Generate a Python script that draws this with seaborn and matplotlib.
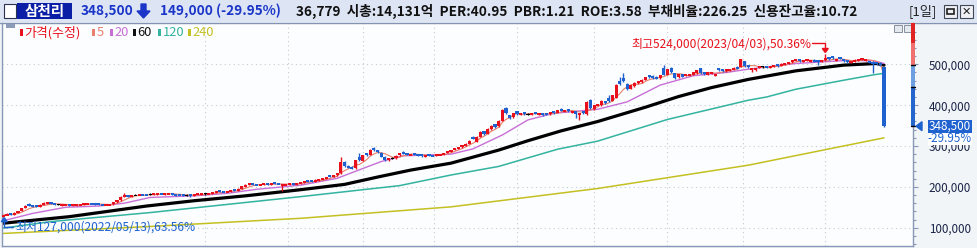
import matplotlib
matplotlib.use('Agg')
import matplotlib.pyplot as plt
from matplotlib.patches import Rectangle, Polygon
from matplotlib.lines import Line2D
from matplotlib.transforms import IdentityTransform, blended_transform_factory
import numpy as np
import pandas as pd
import seaborn as sns

# 삼천리 일봉 (단위: 천원), 2022/05/13 ~
opens = [128,131,134,132,137,141,148,156,155,153,151,156,158,161,158,156,155,156,157,154,
         155,156,156,158,159,158,158,157,156,156,157,162,167,175,178,177,180,180,181,181,
         182,181,182,184,182,183,184,182,181,180,179,180,179,181,182,183,183,184,185,190,
         189,188,189,192,191,195,200,205,208,206,205,206,208,206,209,208,203,205,206,207,
         206,209,211,215,214,213,216,218,221,227,225,228,233,262,251,249,245,272,264,282,
         279,294,290,284,274,265,269,270,277,286,283,278,281,279,278,275,278,277,276,278,
         280,283,286,290,294,297,300,306,321,310,322,336,330,341,353,348,362,392,376,370,
         385,377,382,377,377,383,377,379,378,378,384,381,391,384,390,382,385,376,384,378,
         412,390,398,400,410,418,410,418,458,466,452,440,446,453,456,462,474,472,470,466,
         490,474,492,478,468,476,472,473,476,478,490,481,476,477,472,490,488,483,485,487,
         494,494,508,498,488,487,491,494,495,492,494,500,497,500,502,505,508,511,507,508,
         507,511,509,506,510,517,519,508,518,512,509,504,507,510,511,509,508,506,505,504,
         493]
highs = [132,135,135,138,142,148,155,160,156,154,157,162,163,162,159,158,157,158,158,156,
         157,158,159,160,160,159,159,158,158,158,163,168,177,184,179,180,182,183,182,182,
         186,183,184,185,184,185,185,183,182,181,182,181,183,183,184,185,185,186,189,191,
         190,190,192,193,196,202,207,210,209,207,207,208,209,208,210,209,207,207,208,208,
         210,213,215,216,215,218,219,222,224,229,229,234,272,264,253,250,266,282,279,284,
         292,298,291,285,275,271,272,277,284,287,284,281,282,280,279,278,279,278,279,281,
         284,287,291,295,298,302,307,314,324,324,336,337,343,351,355,363,390,396,377,382,
         386,381,383,380,382,384,380,380,379,384,385,389,392,389,391,386,386,381,385,410,
         414,401,404,412,411,425,425,452,470,478,453,450,456,459,463,469,475,473,471,475,
         498,489,494,479,477,477,475,477,480,487,491,482,480,481,477,491,489,489,488,493,
         495,514,509,499,492,491,495,496,496,496,498,501,502,504,506,511,513,512,511,512,
         511,512,510,511,524,518,520,512,519,513,510,508,512,514,515,512,509,507,506,505,
         494]
lows = [127,130,131,131,136,140,147,152,151,150,150,155,157,157,156,155,154,155,154,153,
        154,155,155,157,157,156,156,155,155,155,156,161,166,174,175,176,179,179,179,179,
        180,180,181,182,181,182,181,177,179,178,177,176,178,180,181,181,182,183,184,188,
        187,187,188,190,190,194,199,204,204,204,204,205,205,205,207,206,191,204,205,205,
        205,208,210,212,212,212,215,217,220,224,224,227,232,248,245,243,244,264,263,276,
        278,288,283,272,264,264,267,269,276,280,277,277,277,276,274,274,275,275,275,277,
        279,282,285,289,293,296,299,305,316,309,321,328,329,340,345,347,361,378,366,369,
        377,376,377,375,376,378,376,374,375,377,379,380,385,383,384,381,369,364,379,377,
        390,389,397,399,404,407,409,417,450,456,438,439,445,452,455,461,466,465,463,465,
        473,473,478,464,467,468,471,472,475,477,476,475,475,476,471,483,482,482,484,486,
        488,493,494,492,482,483,490,492,490,491,493,494,496,499,501,504,507,506,506,507,
        506,505,498,505,509,511,513,507,512,506,503,503,506,509,510,508,503,478,499,496,
        347]
closes = [131,133,132,137,141,147,153,154,152,151,156,160,161,158,157,156,156,157,155,155,
          156,157,158,159,158,157,157,156,157,157,162,167,176,178,176,179,180,181,180,180,
          182,182,183,183,183,184,182,180,180,179,179,179,182,182,183,183,184,185,188,189,
          188,189,191,191,195,201,205,207,205,205,206,207,206,207,208,207,206,206,207,206,
          209,212,214,213,213,217,218,221,223,225,228,233,262,250,247,245,265,266,278,278,
          290,290,285,274,266,270,269,276,283,282,279,280,279,278,276,277,277,276,278,280,
          283,286,290,294,297,301,306,313,318,323,335,330,342,350,347,362,388,380,369,381,
          379,380,379,377,381,380,379,376,377,383,381,388,387,388,386,385,379,380,381,408,
          392,400,402,410,406,409,424,450,452,458,440,449,455,458,462,468,468,467,465,474,
          475,488,480,466,476,470,474,476,479,486,478,477,479,480,476,485,484,488,487,492,
          490,512,496,494,491,490,494,494,492,495,497,496,501,503,505,510,511,508,510,511,
          510,507,505,510,516,513,515,511,514,508,505,507,511,513,514,511,505,502,501,497.5,
          348.5]

# 이동평균선
ma20_idx = [0, 8, 17, 26, 33, 40, 52, 61, 69, 81, 91, 98, 103, 109, 122, 128, 136, 143, 150, 162,
            170, 179, 188, 197, 203, 216, 229, 237, 240]
ma20_val = [117, 135, 150, 153, 160, 174, 178, 184, 194, 204, 221, 245, 262, 276, 280, 293, 327, 364, 380, 390,
            408, 449, 472, 480, 488, 502, 509, 509, 502]
ma60_idx = [0, 18, 39, 52, 66, 81, 93, 102, 111, 122, 135, 143, 152, 162, 175, 184, 193, 203, 216, 229, 238, 240]
ma60_val = [111, 127, 153, 166, 178, 193, 206, 224, 241, 258, 290, 313, 337, 360, 395, 421, 443, 463, 484, 498, 502, 498]
ma120_idx = [0, 13, 40, 81, 108, 122, 135, 151, 162, 181, 203, 208, 216, 229, 237, 240]
ma120_val = [99, 115, 137, 176, 203, 229, 250, 292, 312, 365, 412, 420, 439, 461, 474, 478]
ma240_idx = [0, 40, 81, 122, 162, 203, 240]
ma240_val = [86, 103, 123, 151, 196, 253, 320]

month_starts = [55, 77.5, 98, 117.5, 140, 161, 181, 201.5, 224]
price_ticks = [100, 200, 300, 400, 500]
legend_names = ['가격(수정)', '5', '20', '60', '120', '240']
legend_colors = ['#e8101c', '#e8806c', '#c86fd6', '#111111', '#33b3a0', '#c4c021']
range_bar = [601.1, 552, 497.5, 445, 348.5]   # 우측 등락 막대 경계
range_cols = ['#e02424', '#f07070', '#6d9fe0', '#2466cc']

RED = '#e8101c'
BLUE = '#1f62cf'

sns.set_style('white')
plt.rcParams['font.family'] = ['Noto Sans CJK KR', 'DejaVu Sans']

W, H = 977, 248
fig = plt.figure(figsize=(W / 100, H / 100), dpi=100)
fig.patch.set_facecolor('#f1f5f7')
ID = IdentityTransform()


def box(x0, y0, x1, y1, fc, ec='none', lw=0, z=1):
    # 픽셀 좌표 (위쪽 기준)
    fig.add_artist(Rectangle((x0, H - y1), x1 - x0, y1 - y0, transform=ID,
                             facecolor=fc, edgecolor=ec, linewidth=lw, zorder=z))


def txt(x, y, s, **kw):
    fig.text(x, H - y, s, transform=ID, **kw)


def line(xs, ys, color, lw=1, z=3):
    fig.add_artist(Line2D(xs, [H - v for v in ys], transform=ID, color=color, lw=lw, zorder=z))


# 차트 영역
ax = fig.add_axes([2 / W, 1 - 246 / H, (913 - 2) / W, (246 - 23) / H])
ax.set_facecolor('#fbfdfe')
ax.set_xlim(-0.35, 247.9)
ax.set_ylim(55.2, 601.1)

ax.hlines(price_ticks, -0.35, 247.9, colors='#c3cbd3', linestyles=(0, (1, 3)), lw=0.8, zorder=1)
ax.vlines(month_starts, 55.2, 601.1, colors='#c3cbd3', linestyles=(0, (1, 3)), lw=0.8, zorder=1)

# 이동평균선
idx = np.arange(len(closes))
ma5 = pd.Series(closes).rolling(5, min_periods=1).mean()
sns.lineplot(x=ma240_idx, y=ma240_val, ax=ax, color=legend_colors[5], lw=1.1, zorder=2)
sns.lineplot(x=ma120_idx, y=ma120_val, ax=ax, color=legend_colors[4], lw=1.1, zorder=2)
sns.lineplot(x=ma60_idx, y=ma60_val, ax=ax, color='black', lw=2.3, zorder=2)
sns.lineplot(x=ma20_idx, y=ma20_val, ax=ax, color=legend_colors[2], lw=1.0, zorder=2)
sns.lineplot(x=idx, y=ma5, ax=ax, color=legend_colors[1], lw=0.8, zorder=2)

# 캔들
o = np.array(opens, float)
c = np.array(closes, float)
hi = np.array(highs, float)
lo = np.array(lows, float)
cols = np.where(c > o, RED, np.where(c < o, BLUE, '#000000'))
body = np.where(c == o, 2.4, np.maximum(np.abs(c - o), 5.0))
mid = (o + c) / 2
ax.vlines(idx, lo, hi, colors=cols, lw=1, zorder=3)
ax.bar(idx, body, bottom=mid - body / 2, width=0.85, color=cols, linewidth=0, zorder=4)

# 축
ax.set_xticks([])
ax.set_xlabel('')
ax.set_ylabel('')
ax.yaxis.tick_right()
ax.set_yticks(price_ticks)
ax.set_yticklabels([f'{p * 1000:,}' for p in price_ticks])
ax.set_yticks(np.arange(60, 600, 20), minor=True)
ax.tick_params(axis='y', which='major', length=3.5, width=0.8, color='#8797b5', pad=8,
               labelsize=8.4, labelcolor='#1c2448')
ax.tick_params(axis='y', which='minor', length=2.5, width=0.8, color='#8797b5')
for k in ['left', 'right', 'bottom']:
    ax.spines[k].set_color('#8a98b8')
    ax.spines[k].set_linewidth(1)
ax.spines['top'].set_visible(False)

# 헤더
box(0, 0, W, 22, '#dde5f5')
line([0, W], [22.5, 22.5], '#8292b4')
box(4, 4, 16, 18, 'white', '#2a3350', 0.8)
box(17, 3, 72, 19, '#0a1fa5')
txt(44.5, 11, '삼천리', color='white', fontsize=10.5, weight='bold', ha='center', va='center')
txt(81, 11, '348,500', color='#1a35c8', fontsize=9.8, weight='bold', va='center')
fig.add_artist(Polygon([(141, H - 4), (146, H - 4), (146, H - 11), (150, H - 11), (143.5, H - 18),
                        (137, H - 11), (141, H - 11)], transform=ID, color='#1a35c8', zorder=2))
txt(160, 11, '149,000 (-29.95%)', color='#1a35c8', fontsize=9.8, weight='bold', va='center')
txt(296, 11, '36,779  시총:14,131억  PER:40.95  PBR:1.21  ROE:3.58  부채비율:226.25  신용잔고율:10.72',
    color='#111111', fontsize=9.8, weight='bold', va='center')
txt(909, 11, '[1일]', color='#222222', fontsize=9.5, va='center')
box(944, 5, 957, 18, '#eef0f5', '#404858', 0.8)
box(947, 9, 954, 14, 'none', '#202020', 1.2)
box(960, 5, 973, 18, '#eef0f5', '#404858', 0.8)
txt(966.5, 11.5, '✕', color='#202020', fontsize=8, weight='bold', ha='center', va='center', family='DejaVu Sans')

# 차트 안 작은 버튼
box(894, 25, 902, 32, '#e4e8ef', '#8890a0', 0.7, z=5)
box(904, 25, 912, 32, '#e4e8ef', '#8890a0', 0.7, z=5)

# 범례
box(6, 24, 15, 27.5, '#8c9cb8', z=5)
lx = [20, 92, 110, 133, 158, 188]
for name, colr, x0 in zip(legend_names, legend_colors, lx):
    box(x0, 29, x0 + 2.5, 36, colr, z=5)
    txt(x0 + 4.5, 32.5, name, color=colr, fontsize=9.3, va='center', zorder=5)

# 최고/최저 표시
def to_px(i, p):
    xd, yd = ax.transData.transform((i, p))
    return xd, H - yd

hx, hy = to_px(224, 524)
line([hx - 13, hx, hx], [hy - 11, hy - 11, hy - 6], RED, 1, 6)
fig.add_artist(Polygon([(hx - 3, H - hy + 6), (hx + 3, H - hy + 6), (hx, H - hy + 2)],
                       transform=ID, color=RED, zorder=6))
txt(hx - 14, hy - 10, '최고524,000(2023/04/03),50.36%', color=RED, fontsize=8.6, ha='right', va='center', zorder=6)

lx0, ly0 = to_px(0, 127)
line([lx0 + 10, lx0 + 1, lx0 + 1], [ly0 + 10, ly0 + 10, ly0 + 4], BLUE, 1, 6)
fig.add_artist(Polygon([(lx0 - 2, H - ly0 - 5), (lx0 + 4, H - ly0 - 5), (lx0 + 1, H - ly0 - 1)],
                       transform=ID, color=BLUE, zorder=6))
txt(lx0 + 12, ly0 + 10.5, '최저127,000(2022/05/13),63.56%', color=BLUE, fontsize=8.6, va='center', zorder=6)

# 우측 등락 막대
bt = blended_transform_factory(ID, ax.transData)
for k in range(4):
    fig.add_artist(Rectangle((911, range_bar[k + 1]), 4, range_bar[k] - range_bar[k + 1], transform=bt,
                             facecolor=range_cols[k], edgecolor='none', zorder=5))
for p in range_bar[2:]:
    fig.add_artist(Line2D([911, 915], [p, p], transform=bt, color='black', lw=1, zorder=6))

# 현재가 표시
_, yc = to_px(0, closes[-1])
fig.add_artist(Polygon([(916, H - yc), (922, H - yc + 4.5), (922, H - yc - 4.5)], transform=ID,
                       color=BLUE, zorder=6))
box(928, yc - 6.5, 972, yc + 6.5, BLUE, z=6)
txt(950, yc, f'{int(closes[-1] * 1000):,}', color='white', fontsize=8.4, ha='center', va='center', zorder=7)
box(928, yc + 6.5, 972, yc + 19, 'white', z=6)
txt(950, yc + 12.8, '-29.95%', color=BLUE, fontsize=8.4, ha='center', va='center', zorder=7)

fig.savefig('out.png', dpi=100)
